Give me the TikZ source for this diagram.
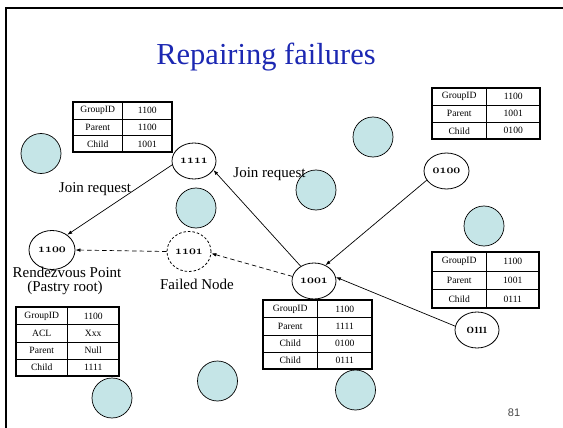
\documentclass[tikz,border=0pt]{standalone}
\usepackage{fontspec}
\setmainfont{Liberation Serif}
\newfontfamily\pagenumfont{Liberation Sans}
\usetikzlibrary{arrows.meta,shapes.geometric}

\definecolor{titleblue}{RGB}{28,40,178}
\definecolor{idlecyan}{RGB}{197,229,231}
\definecolor{pagegray}{RGB}{70,70,70}

% old-style figures for the node identifiers
\newcommand\oldfigs[1]{{\usefont{OML}{cmm}{b}{it}#1}}

% a state table: name, left x, top y, key width, value width, row height, rows, key/value list
\newcommand\statetable[8]{%
  \begin{scope}[shift={(#2,#3)}]
    \foreach [count=\i] \cellkey/\cellval in {#8} {
      \node[tcell, minimum width=#4pt, minimum height=#6pt] (#1-k\i) at (0,{(\i-1)*#6}) {\cellkey};
      \node[tcell, minimum width=#5pt, minimum height=#6pt] (#1-v\i) at (#4,{(\i-1)*#6}) {\cellval};
    }
    \draw[tframe] (0,0) rectangle ({#4+#5},{#7*#6});
  \end{scope}}

\tikzset{
  peer/.style={ellipse, draw, fill=white, line width=0.8pt, minimum width=44pt,
    minimum height=36pt, inner sep=0pt, font=\fontsize{11.5}{11.5}\selectfont},
  failed/.style={peer, dashed, dash pattern=on 2.5pt off 2pt},
  idle/.style={circle, draw, fill=idlecyan, line width=0.7pt, minimum size=40pt, inner sep=0pt},
  tcell/.style={draw, line width=0.5pt, anchor=north west, inner sep=0pt,
    font=\fontsize{9.6}{9.6}\selectfont},
  tframe/.style={line width=1.6pt},
  link/.style={line width=0.7pt, -{Latex[length=5pt,width=3.6pt]}},
  brokenlink/.style={link, dash pattern=on 4.5pt off 3pt},
  caption/.style={anchor=base, inner sep=0pt, font=\fontsize{15}{15}\selectfont},
}

\begin{document}
\begin{tikzpicture}[x=1pt, y=-1pt]
  \useasboundingbox (0,0) rectangle (563,428);

  % slide frame
  \draw[line width=2.4pt] (563,7.8) -- (5.8,7.8) -- (5.8,428);

  % title
  \node[anchor=base, inner sep=0pt, text=titleblue, font=\fontsize{30.5}{30.5}\selectfont]
    (title) at (266,65) {Repairing failures};

  % idle overlay members
  \node[idle] (c1) at (41,153.5) {};
  \node[idle] (c2) at (196,208) {};
  \node[idle] (c3) at (373,137) {};
  \node[idle] (c4) at (316,190) {};
  \node[idle] (c5) at (484,226) {};
  \node[idle] (c6) at (112,398) {};
  \node[idle] (c7) at (217.5,381) {};
  \node[idle] (c8) at (355.5,390) {};

  % tree members
  \node[peer] (n1111) at (194,161) {\oldfigs{1111}};
  \node[peer, minimum width=46pt, minimum height=39pt] (n1100) at (52,250) {\oldfigs{1100}};
  \node[failed, minimum height=40pt] (n1101) at (189,251.5) {\oldfigs{1101}};
  \node[peer] (n1001) at (314,281) {\oldfigs{1001}};
  \node[peer, minimum width=45pt] (n0100) at (446.5,171) {\oldfigs{0100}};
  \node[peer, font=\fontsize{9.5}{9.5}\selectfont\bfseries] (n0111) at (477,330) {O111};

  % requests
  \draw[link] (n1111.190) -- (n1100.45);
  \draw[link] (n1001.132) -- (n1111.335);
  \draw[link] (n0100.205) -- (n1001.54);
  \draw[link] (n0111.170) -- (n1001.10);
  \draw[brokenlink] (n1001.168) -- (n1101.355);
  \draw[brokenlink] (n1101.west) -- (n1100.east);

  % captions
  \node[caption] (jr1) at (95,192) {Join request};
  \node[caption] (jr2) at (269.5,177) {Join request};
  \node[caption] (rp) at (67,277) {Rendezvous Point};
  \node[caption] (pr) at (65,291) {(Pastry root)};
  \node[caption] (fn) at (197,289.5) {Failed Node};

  % per-node state
  \statetable{t1111}{73}{102}{49}{50}{16.7}{3}{GroupID/1100, Parent/1100, Child/1001}
  \statetable{t0100}{432}{88}{54}{54}{17}{3}{GroupID/1100, Parent/1001, Child/0100}
  \statetable{t0111}{432}{252}{54}{53}{18.7}{3}{GroupID/1100, Parent/1001, Child/0111}
  \statetable{t1001}{263}{300}{54}{55}{17.25}{4}{GroupID/1100, Parent/1111, Child/0100, Child/0111}
  \statetable{t1100}{16}{307}{51}{52}{17.25}{4}{GroupID/1100, ACL/Xxx, Parent/Null, Child/1111}

  % page number
  \node[anchor=base, inner sep=0pt, text=pagegray, font=\pagenumfont\fontsize{11}{11}\selectfont]
    (pg) at (514,416) {81};
\end{tikzpicture}
\end{document}
